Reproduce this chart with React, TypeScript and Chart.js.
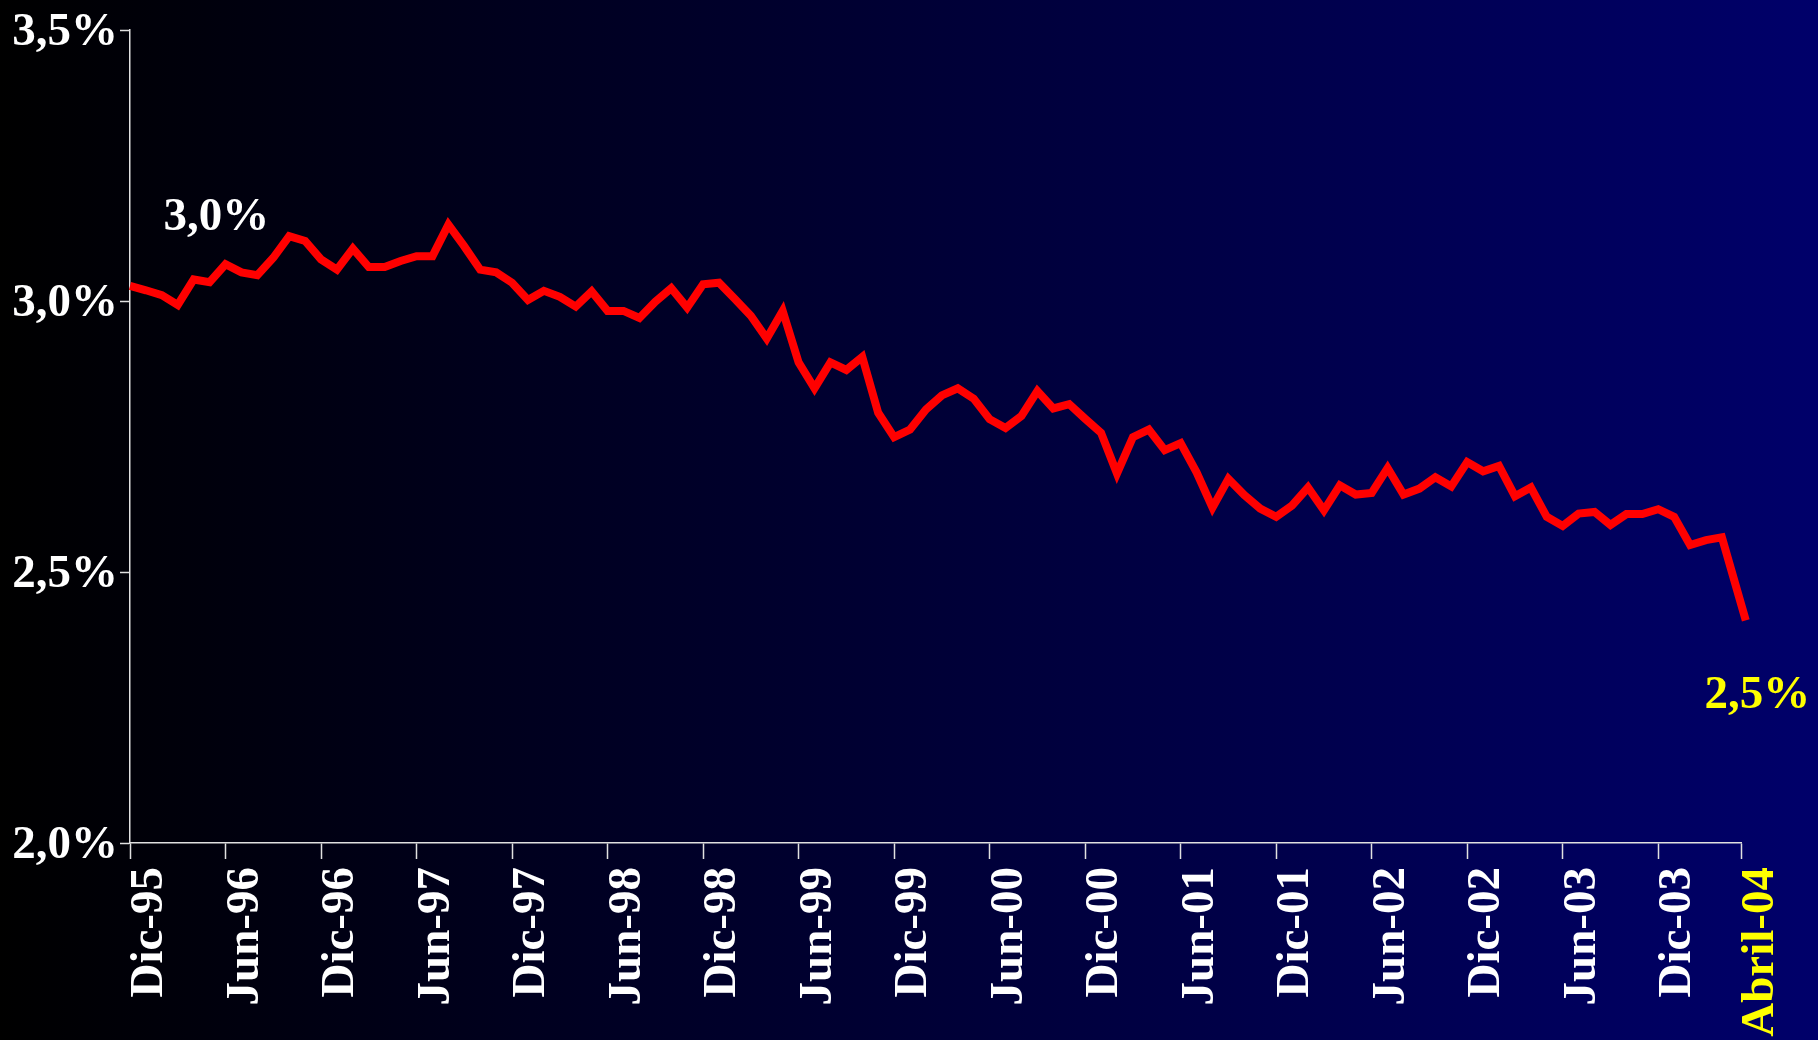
import { useEffect, useRef } from 'react';
import { Chart, registerables } from 'chart.js';

Chart.register(...registerables);

// Month offsets from Dic-95 where the x-axis ticks sit, and their labels
const tickMonths = [0, 6, 12, 18, 24, 30, 36, 42, 48, 54, 60, 66, 72, 78, 84, 90, 96, 101.2];
const tickLabels = [
  'Dic-95', 'Jun-96', 'Dic-96', 'Jun-97', 'Dic-97', 'Jun-98', 'Dic-98', 'Jun-99',
  'Dic-99', 'Jun-00', 'Dic-00', 'Jun-01', 'Dic-01', 'Jun-02', 'Dic-02', 'Jun-03',
  'Dic-03', 'Abril-04',
];

// Monthly values (%) starting Dic-95
const monthlyRates = [
  3.028, 3.020, 3.011, 2.993, 3.040, 3.035, 3.068, 3.053, 3.048, 3.080,
  3.120, 3.111, 3.077, 3.058, 3.097, 3.063, 3.063, 3.074, 3.083, 3.083,
  3.141, 3.101, 3.058, 3.053, 3.034, 3.002, 3.019, 3.008, 2.990, 3.018,
  2.982, 2.982, 2.969, 2.999, 3.024, 2.988, 3.031, 3.034, 3.004, 2.973,
  2.931, 2.982, 2.887, 2.839, 2.887, 2.873, 2.897, 2.794, 2.749, 2.763,
  2.800, 2.826, 2.839, 2.820, 2.782, 2.766, 2.788, 2.834, 2.802, 2.810,
  2.783, 2.757, 2.682, 2.749, 2.763, 2.725, 2.738, 2.684, 2.619, 2.672,
  2.642, 2.617, 2.602, 2.623, 2.656, 2.614, 2.660, 2.643, 2.646, 2.692,
  2.643, 2.654, 2.675, 2.658, 2.703, 2.686, 2.696, 2.640, 2.656, 2.602,
  2.585, 2.608, 2.611, 2.587, 2.607, 2.607, 2.616, 2.602, 2.550, 2.559,
  2.564,
];
// Final (Abril-04) observation
const finalMonth = 101.5;
const finalRate = 2.411;

const yMin = 2.0;
const yMax = 3.5;
const yStep = 0.5;

// Text annotations
const annotationTexts = ['3,0%', '2,5%'];
const annotationMonths = [2.1, 98.9];
const annotationValues = [3.132, 2.249];
const annotationColors = ['#ffffff', '#ffff00'];

const FONT = '"Liberation Serif", "Times New Roman", serif';

export default function App() {
  const canvasRef = useRef<HTMLCanvasElement | null>(null);

  useEffect(() => {
    document.body.style.margin = '0';
    const canvas = canvasRef.current;
    if (!canvas) return;

    const points = monthlyRates.map((v, i) => ({ x: i, y: v }));
    points.push({ x: finalMonth, y: finalRate });

    const annotationPlugin = {
      id: 'textAnnotations',
      afterDraw(chart: any) {
        const { ctx } = chart;
        const xs = chart.scales.x;
        const ys = chart.scales.y;
        ctx.save();
        ctx.font = `bold 47px ${FONT}`;
        ctx.textAlign = 'left';
        ctx.textBaseline = 'alphabetic';
        annotationTexts.forEach((t, i) => {
          ctx.fillStyle = annotationColors[i];
          ctx.fillText(t, xs.getPixelForValue(annotationMonths[i]), ys.getPixelForValue(annotationValues[i]));
        });
        ctx.restore();
      },
    };

    const chart = new Chart(canvas, {
      type: 'line',
      data: {
        datasets: [
          {
            data: points,
            borderColor: '#ff0000',
            borderWidth: 8,
            pointRadius: 0,
            tension: 0,
            fill: false,
            borderJoinStyle: 'miter',
            clip: false as any,
          },
        ],
      },
      options: {
        animation: false,
        responsive: false,
        maintainAspectRatio: false,
        layout: {
          autoPadding: false,
          padding: { top: 21, right: 77, left: 0, bottom: 0 },
        } as any,
        plugins: {
          legend: { display: false },
          tooltip: { enabled: false },
        },
        scales: {
          x: {
            type: 'linear',
            min: 0,
            max: tickMonths[tickMonths.length - 1],
            afterBuildTicks: (scale: any) => {
              scale.ticks = tickMonths.map((v) => ({ value: v }));
            },
            afterFit: (scale: any) => {
              scale.height = 197;
            },
            grid: {
              drawOnChartArea: false,
              drawTicks: true,
              tickLength: 16,
              tickColor: '#e0e0e0',
              tickWidth: 1.5,
            },
            border: { display: true, color: '#e0e0e0', width: 1.5 },
            ticks: {
              autoSkip: false,
              minRotation: 90,
              maxRotation: 90,
              padding: 8,
              labelOffset: 20,
              color: (c: any) => (c.index === tickMonths.length - 1 ? '#ffff00' : '#ffffff'),
              font: { family: FONT, size: 47, weight: 'bold' },
              callback: (value: any) => {
                const i = tickMonths.indexOf(Number(value));
                return i >= 0 ? tickLabels[i] : '';
              },
            },
          },
          y: {
            type: 'linear',
            min: yMin,
            max: yMax,
            afterFit: (scale: any) => {
              scale.width = 130;
            },
            grid: {
              drawOnChartArea: false,
              drawTicks: true,
              tickLength: 10,
              tickColor: '#e0e0e0',
              tickWidth: 1.5,
            },
            border: { display: true, color: '#e0e0e0', width: 1.5 },
            ticks: {
              stepSize: yStep,
              padding: 2,
              labelOffset: 3,
              color: '#ffffff',
              font: { family: FONT, size: 47, weight: 'bold' },
              callback: (value: any) => Number(value).toFixed(1).replace('.', ',') + '%',
            },
          },
        },
      },
      plugins: [annotationPlugin],
    });

    return () => chart.destroy();
  }, []);

  return (
    <div
      style={{
        position: 'absolute',
        left: 0,
        top: 0,
        width: 1818,
        height: 1040,
        overflow: 'hidden',
        background: 'linear-gradient(to right, #000000 0%, #00006a 100%)',
      }}
    >
      <canvas ref={canvasRef} width={1818} height={1040} style={{ width: 1818, height: 1040, display: 'block' }} />
    </div>
  );
}
